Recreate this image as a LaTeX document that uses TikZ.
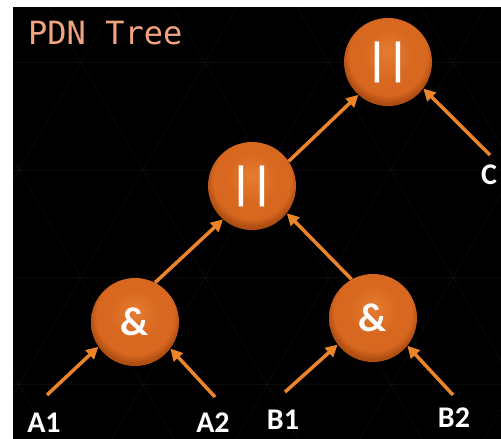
\documentclass[tikz,border=0pt]{standalone}
\usepackage{fontspec}
\setmainfont{Carlito}
\newfontfamily\titlefont{DejaVu Sans Mono}
\usetikzlibrary{arrows.meta}

\definecolor{pagebg}{RGB}{0,0,0}
\definecolor{gridgray}{RGB}{11,11,11}
\definecolor{gateA}{RGB}{230,124,50}
\definecolor{gateB}{RGB}{216,104,32}
\definecolor{gateC}{RGB}{176,78,18}
\definecolor{wire}{RGB}{236,132,42}
\definecolor{titlesalmon}{RGB}{242,164,128}

\pgfdeclareradialshading{gateball}{\pgfpoint{0bp}{6bp}}{%
  color(0bp)=(gateA); color(14bp)=(gateB); color(22bp)=(gateB);
  color(26bp)=(gateC); color(50bp)=(gateC)}

\tikzset{
  gate/.style={circle, minimum size=88pt, inner sep=0pt, shading=gateball,
    text=white, font=\bfseries\fontsize{40}{40}\selectfont},
  orgate/.style={gate, font=\bfseries\fontsize{46}{46}\selectfont},
  leaf/.style={text=white, font=\bfseries\fontsize{30}{30}\selectfont,
    inner sep=0pt, anchor=base},
  wirearrow/.style={draw=wire, line width=3.5pt,
    -{Triangle[length=12pt,width=12pt]}},
  gridline/.style={draw=gridgray, line width=0.8pt},
}

\begin{document}
\begin{tikzpicture}[x=1pt, y=-1pt]
  \useasboundingbox (0,0) rectangle (501,439);
  \fill[white] (0,0) rectangle (501,439);
  \fill[pagebg] (13,7) rectangle (501,439);

  % faint triangular lattice in the backdrop
  \begin{scope}
    \clip (13,7) rectangle (501,439);
    \foreach \y in {62,170,277,384} {
      \draw[gridline] (13,\y) -- (501,\y);
    }
    \foreach \k in {-3,...,6} {
      \draw[gridline] ({143+124*\k-170*0.5767},0) -- ({143+124*\k+269*0.5767},439);
      \draw[gridline] ({143+124*\k+170*0.5767},0) -- ({143+124*\k-269*0.5767},439);
    }
  \end{scope}

  % title
  \node[anchor=base west, inner sep=0pt, text=titlesalmon,
        font=\titlefont\fontsize{32}{32}\selectfont] (title) at (28,44) {PDN Tree};

  % gates
  \node[orgate] (top) at (388,62) {|\hspace{-1pt}|};
  \node[orgate] (mid) at (252,186) {|\hspace{-1pt}|};
  \node[gate]   (andL) at (135,322) {\&};
  \node[gate]   (andR) at (373,318) {\&};

  % inputs
  \node[leaf] (A1) at (44,432) {A1};
  \node[leaf] (A2) at (213,432) {A2};
  \node[leaf] (B1) at (283,429) {B1};
  \node[leaf] (B2) at (454,427) {B2};
  \node[leaf] (C)  at (489,184) {C};

  \coordinate (tA1) at (47,395);
  \coordinate (tA2) at (215,397);
  \coordinate (tB1) at (285,392);
  \coordinate (tB2) at (453,395);
  \coordinate (tC)  at (490,155);

  % connectors
  \draw[wirearrow] (tA1) -- (andL.214);
  \draw[wirearrow] (tA2) -- (andL.323);
  \draw[wirearrow] (tB1) -- (andR.217);
  \draw[wirearrow] (tB2) -- (andR.321);
  \draw[wirearrow] (tC)  -- (top.323);
  \draw[wirearrow] (andL.63)  -- (mid.229);
  \draw[wirearrow] (andR.119) -- (mid.322);
  \draw[wirearrow] (mid.34)   -- (top.228);
\end{tikzpicture}
\end{document}
